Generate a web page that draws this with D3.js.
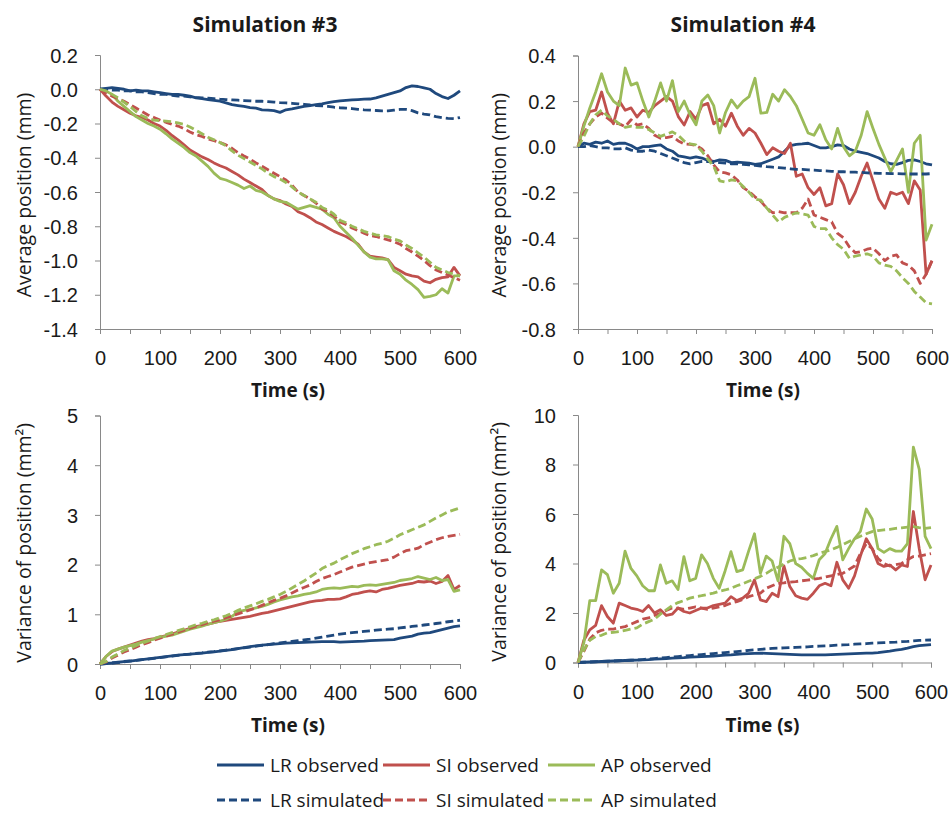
<!DOCTYPE html>
<html>
<head>
<meta charset="utf-8">
<script src="https://cdn.jsdelivr.net/npm/d3@7"></script>
<style>
  body { margin: 0; background: #fff; }
  svg { font-family: "Open Sans", "Segoe UI", sans-serif; }
  .tick text { font-size: 20px; fill: #1a1a1a; }
  .tick line, .domain { stroke: #898989; stroke-width: 1; }
</style>
</head>
<body>
<svg></svg>
<script>
// time axis (s), shared by all series
var time = [0,10,20,30,40,50,60,70,80,90,100,110,120,130,140,150,160,170,180,190,200,
  210,220,230,240,250,260,270,280,290,300,310,320,330,340,350,360,370,380,390,400,
  410,420,430,440,450,460,470,480,490,500,510,520,530,540,550,560,570,580,590,600];

var seriesNames = ['LR observed', 'SI observed', 'AP observed', 'LR simulated', 'SI simulated', 'AP simulated'];
var seriesColors = ['#1F497D', '#C0504D', '#9BBB59', '#1F497D', '#C0504D', '#9BBB59'];

// ---- Simulation #3, average position (mm)
var sim3PosLRobs = [0,0.005,0.01,0.005,0,-0.01,-0.005,-0.01,-0.01,-0.015,-0.02,-0.025,-0.03,-0.03,-0.035,-0.04,-0.05,-0.055,-0.06,-0.065,-0.07,
  -0.08,-0.09,-0.095,-0.1,-0.107,-0.11,-0.12,-0.122,-0.125,-0.135,-0.12,-0.115,-0.107,-0.1,-0.095,-0.09,-0.085,-0.078,-0.072,-0.068,
  -0.065,-0.062,-0.06,-0.058,-0.057,-0.05,-0.04,-0.03,-0.02,-0.01,0.01,0.02,0.016,0.008,0,-0.025,-0.043,-0.054,-0.035,-0.01];
var sim3PosSIobs = [0,-0.04,-0.075,-0.1,-0.12,-0.14,-0.155,-0.165,-0.18,-0.2,-0.215,-0.24,-0.27,-0.295,-0.325,-0.355,-0.375,-0.395,-0.41,-0.43,-0.447,
  -0.46,-0.48,-0.5,-0.525,-0.545,-0.565,-0.585,-0.62,-0.64,-0.65,-0.67,-0.685,-0.715,-0.73,-0.75,-0.775,-0.79,-0.81,-0.83,-0.845,
  -0.86,-0.88,-0.905,-0.95,-0.975,-0.98,-0.985,-0.995,-1.04,-1.06,-1.08,-1.09,-1.095,-1.12,-1.13,-1.11,-1.1,-1.095,-1.04,-1.09];
var sim3PosAPobs = [0,-0.01,-0.03,-0.07,-0.1,-0.13,-0.16,-0.18,-0.2,-0.215,-0.233,-0.26,-0.29,-0.315,-0.34,-0.37,-0.39,-0.42,-0.45,-0.49,-0.52,
  -0.53,-0.545,-0.56,-0.58,-0.565,-0.59,-0.6,-0.62,-0.64,-0.655,-0.66,-0.68,-0.7,-0.69,-0.68,-0.69,-0.7,-0.73,-0.75,-0.8,
  -0.835,-0.87,-0.91,-0.95,-0.98,-0.99,-0.99,-0.995,-1.06,-1.08,-1.115,-1.14,-1.17,-1.215,-1.21,-1.2,-1.165,-1.19,-1.09,-1.09];
var sim3PosLRsim = [0,0,-0.005,-0.005,-0.01,-0.01,-0.015,-0.015,-0.02,-0.025,-0.03,-0.03,-0.035,-0.04,-0.04,-0.045,-0.048,-0.05,-0.052,-0.055,-0.058,
  -0.06,-0.062,-0.064,-0.066,-0.068,-0.07,-0.07,-0.072,-0.075,-0.078,-0.08,-0.082,-0.085,-0.088,-0.092,-0.095,-0.097,-0.1,-0.105,-0.108,
  -0.11,-0.113,-0.117,-0.12,-0.122,-0.124,-0.126,-0.126,-0.122,-0.118,-0.118,-0.125,-0.138,-0.145,-0.15,-0.16,-0.166,-0.17,-0.172,-0.165];
var sim3PosSIsim = [0,-0.02,-0.04,-0.055,-0.07,-0.09,-0.11,-0.13,-0.15,-0.165,-0.18,-0.193,-0.205,-0.215,-0.23,-0.25,-0.265,-0.275,-0.29,-0.3,-0.311,
  -0.325,-0.345,-0.37,-0.39,-0.408,-0.43,-0.45,-0.47,-0.49,-0.51,-0.53,-0.56,-0.6,-0.62,-0.64,-0.665,-0.7,-0.715,-0.74,-0.775,
  -0.79,-0.81,-0.825,-0.84,-0.855,-0.86,-0.87,-0.88,-0.89,-0.905,-0.93,-0.95,-0.975,-1.0,-1.03,-1.055,-1.07,-1.085,-1.1,-1.115];
var sim3PosAPsim = [0,-0.01,-0.03,-0.05,-0.075,-0.1,-0.13,-0.155,-0.17,-0.18,-0.183,-0.186,-0.19,-0.197,-0.205,-0.22,-0.24,-0.26,-0.28,-0.295,-0.311,
  -0.33,-0.36,-0.385,-0.405,-0.425,-0.445,-0.465,-0.49,-0.51,-0.525,-0.545,-0.57,-0.6,-0.62,-0.64,-0.66,-0.69,-0.705,-0.73,-0.765,
  -0.78,-0.8,-0.815,-0.83,-0.84,-0.85,-0.855,-0.86,-0.875,-0.885,-0.91,-0.93,-0.955,-0.98,-1.01,-1.04,-1.055,-1.07,-1.08,-1.09];

// ---- Simulation #4, average position (mm)
var sim4PosLRobs = [0,0.015,0.01,0.02,0.015,0.025,0.01,0.015,0.015,0.005,-0.01,0,0,0.005,0.008,-0.01,-0.02,-0.04,-0.045,-0.05,-0.045,
  -0.05,-0.06,-0.065,-0.058,-0.06,-0.07,-0.068,-0.07,-0.072,-0.078,-0.075,-0.065,-0.055,-0.045,-0.02,0.005,0.01,0.012,0.015,0.005,
  -0.005,-0.005,0,0.008,0.005,-0.01,-0.02,-0.025,-0.03,-0.04,-0.05,-0.065,-0.075,-0.078,-0.07,-0.06,-0.058,-0.065,-0.075,-0.08];
var sim4PosSIobs = [0,0.1,0.154,0.16,0.24,0.147,0.1,0.2,0.16,0.17,0.13,0.16,0.15,0.18,0.2,0.22,0.2,0.132,0.095,0.154,0.12,
  0.18,0.19,0.1,0.12,0.09,0.147,0.09,0.05,0.08,0.06,0.015,-0.035,-0.005,-0.02,-0.03,0.015,-0.13,-0.12,-0.18,-0.21,
  -0.18,-0.26,-0.25,-0.12,-0.167,-0.25,-0.2,-0.13,-0.072,-0.15,-0.23,-0.27,-0.2,-0.21,-0.2,-0.25,-0.15,-0.19,-0.56,-0.5];
var sim4PosAPobs = [0,0.09,0.17,0.24,0.32,0.24,0.2,0.18,0.345,0.27,0.28,0.2,0.13,0.2,0.28,0.2,0.29,0.154,0.2,0.14,0.096,
  0.2,0.227,0.18,0.06,0.15,0.205,0.17,0.2,0.22,0.3,0.147,0.15,0.23,0.2,0.25,0.22,0.18,0.12,0.06,0.05,
  0.096,0.03,-0.01,0.08,0,-0.04,-0.02,0.05,0.154,0.08,0.01,-0.05,-0.11,-0.06,-0.01,-0.2,0.015,0.05,-0.41,-0.34];
var sim4PosLRsim = [0,0,0.005,0,-0.005,-0.005,-0.01,-0.01,-0.005,-0.015,-0.02,-0.02,-0.015,-0.02,-0.03,-0.04,-0.05,-0.06,-0.07,-0.075,-0.07,
  -0.065,-0.065,-0.07,-0.07,-0.072,-0.075,-0.075,-0.078,-0.08,-0.082,-0.085,-0.088,-0.09,-0.092,-0.094,-0.097,-0.1,-0.1,-0.102,-0.103,
  -0.105,-0.106,-0.108,-0.11,-0.11,-0.112,-0.112,-0.113,-0.115,-0.116,-0.117,-0.117,-0.118,-0.118,-0.119,-0.12,-0.12,-0.12,-0.12,-0.118];
var sim4PosSIsim = [0,0.06,0.1,0.13,0.147,0.125,0.105,0.1,0.088,0.118,0.095,0.1,0.08,0.05,0.037,0.04,0.045,0.025,0.012,0.01,0.005,
  -0.01,-0.04,-0.08,-0.11,-0.115,-0.124,-0.146,-0.18,-0.197,-0.22,-0.24,-0.27,-0.29,-0.285,-0.29,-0.29,-0.29,-0.27,-0.23,-0.3,
  -0.31,-0.32,-0.33,-0.38,-0.4,-0.44,-0.465,-0.46,-0.45,-0.445,-0.47,-0.5,-0.48,-0.475,-0.51,-0.52,-0.545,-0.6,-0.56,-0.5];
var sim4PosAPsim = [0,0.045,0.1,0.14,0.16,0.135,0.12,0.1,0.085,0.09,0.085,0.085,0.075,0.06,0.045,0.055,0.065,0.05,0.025,0.012,0.008,
  -0.02,-0.055,-0.085,-0.15,-0.155,-0.146,-0.15,-0.175,-0.2,-0.23,-0.235,-0.27,-0.3,-0.33,-0.31,-0.3,-0.29,-0.295,-0.3,-0.35,
  -0.36,-0.36,-0.4,-0.43,-0.45,-0.49,-0.48,-0.475,-0.47,-0.48,-0.51,-0.52,-0.525,-0.545,-0.575,-0.6,-0.635,-0.66,-0.685,-0.69];

// ---- Simulation #3, variance of position (mm2)
var sim3VarLRobs = [0,0.01,0.02,0.035,0.05,0.06,0.075,0.09,0.105,0.12,0.135,0.15,0.165,0.18,0.19,0.2,0.21,0.22,0.235,0.245,0.26,
  0.275,0.29,0.31,0.33,0.35,0.365,0.38,0.39,0.4,0.41,0.42,0.425,0.43,0.435,0.44,0.445,0.45,0.45,0.45,0.44,
  0.445,0.45,0.455,0.46,0.47,0.475,0.48,0.485,0.49,0.52,0.54,0.56,0.6,0.62,0.63,0.66,0.69,0.72,0.75,0.765];
var sim3VarSIobs = [0,0.15,0.25,0.3,0.34,0.38,0.42,0.46,0.49,0.51,0.54,0.57,0.6,0.64,0.68,0.72,0.75,0.78,0.8,0.83,0.86,
  0.88,0.9,0.92,0.94,0.96,0.99,1.02,1.04,1.07,1.1,1.13,1.16,1.19,1.22,1.25,1.27,1.28,1.3,1.3,1.31,
  1.35,1.4,1.42,1.45,1.47,1.45,1.5,1.52,1.55,1.58,1.6,1.62,1.66,1.65,1.67,1.62,1.66,1.78,1.5,1.58];
var sim3VarAPobs = [0,0.15,0.26,0.3,0.34,0.37,0.4,0.44,0.47,0.5,0.53,0.56,0.58,0.62,0.66,0.7,0.73,0.76,0.8,0.83,0.86,
  0.9,0.96,1.05,1.08,1.1,1.13,1.16,1.2,1.25,1.29,1.32,1.35,1.37,1.4,1.42,1.45,1.5,1.52,1.53,1.52,
  1.54,1.56,1.55,1.58,1.59,1.58,1.6,1.62,1.64,1.68,1.7,1.72,1.76,1.73,1.7,1.74,1.68,1.7,1.46,1.49];
var sim3VarLRsim = [0,0.01,0.02,0.03,0.045,0.06,0.075,0.09,0.1,0.115,0.13,0.145,0.16,0.175,0.19,0.2,0.215,0.225,0.24,0.25,0.265,
  0.28,0.295,0.31,0.325,0.34,0.36,0.375,0.39,0.41,0.425,0.44,0.455,0.47,0.485,0.5,0.52,0.54,0.56,0.58,0.6,
  0.615,0.63,0.64,0.655,0.665,0.68,0.69,0.7,0.71,0.725,0.74,0.755,0.77,0.785,0.8,0.815,0.83,0.85,0.865,0.88];
var sim3VarSIsim = [0,0.04,0.12,0.18,0.24,0.29,0.34,0.39,0.43,0.48,0.52,0.56,0.6,0.64,0.68,0.72,0.76,0.79,0.83,0.86,0.89,
  0.93,0.97,1.01,1.05,1.09,1.13,1.18,1.23,1.28,1.32,1.37,1.43,1.49,1.54,1.59,1.66,1.72,1.76,1.8,1.85,
  1.9,1.95,1.98,2.01,2.04,2.06,2.08,2.1,2.15,2.22,2.28,2.3,2.33,2.4,2.45,2.5,2.54,2.57,2.59,2.61];
var sim3VarAPsim = [0,0.05,0.14,0.2,0.27,0.32,0.37,0.42,0.46,0.51,0.55,0.59,0.63,0.67,0.71,0.75,0.79,0.82,0.86,0.89,0.93,
  0.97,1.02,1.08,1.13,1.17,1.21,1.26,1.3,1.35,1.4,1.46,1.53,1.6,1.67,1.75,1.83,1.92,1.98,2.03,2.1,
  2.16,2.22,2.27,2.32,2.36,2.4,2.43,2.47,2.53,2.6,2.65,2.7,2.75,2.8,2.87,2.94,3.0,3.06,3.1,3.14];

// ---- Simulation #4, variance of position (mm2)
var sim4VarLRobs = [0,0.01,0.02,0.03,0.04,0.05,0.06,0.07,0.08,0.09,0.1,0.11,0.12,0.14,0.15,0.16,0.18,0.19,0.2,0.22,0.23,
  0.24,0.25,0.26,0.28,0.3,0.31,0.33,0.35,0.36,0.37,0.38,0.37,0.36,0.35,0.34,0.33,0.32,0.31,0.31,0.31,
  0.31,0.31,0.32,0.33,0.34,0.35,0.36,0.37,0.38,0.38,0.4,0.43,0.46,0.5,0.53,0.58,0.64,0.68,0.7,0.72];
var sim4VarSIobs = [0,0.9,1.32,1.5,2.3,1.86,1.59,2.4,2.3,2.2,2.15,2.06,2.3,2.0,2.13,1.9,1.95,2.2,2.06,2.0,2.1,
  2.2,2.2,2.3,2.35,2.4,2.66,2.5,2.6,2.8,3.34,2.53,2.46,2.8,2.66,3.9,3.07,2.7,2.6,2.55,2.8,
  3.1,3.2,3.1,4.05,3.34,3.0,3.5,4.3,5.0,4.6,4.0,3.88,3.94,3.74,3.94,3.88,6.1,4.6,3.34,3.94];
var sim4VarAPobs = [0,0.8,2.5,2.5,3.74,3.55,2.8,3.2,4.5,3.8,3.5,3.1,2.9,2.9,3.94,3.2,3.3,2.95,4.28,3.3,3.4,
  4.35,4.0,3.4,3.0,3.7,4.48,3.67,3.74,4.5,5.2,3.6,4.3,4.1,3.3,5.1,4.8,4.0,3.85,3.6,3.4,
  4.15,4.4,5.0,5.5,4.15,4.6,5.0,5.3,6.2,5.8,4.6,4.45,4.6,4.5,4.5,4.8,8.7,7.8,5.1,4.6];
var sim4VarLRsim = [0,0.01,0.02,0.03,0.04,0.05,0.06,0.07,0.08,0.09,0.1,0.12,0.14,0.16,0.18,0.2,0.22,0.24,0.26,0.28,0.3,
  0.32,0.34,0.36,0.38,0.4,0.42,0.44,0.46,0.49,0.51,0.53,0.55,0.57,0.58,0.59,0.6,0.61,0.62,0.63,0.65,
  0.66,0.67,0.68,0.7,0.71,0.72,0.74,0.75,0.76,0.78,0.79,0.8,0.81,0.82,0.84,0.85,0.87,0.89,0.9,0.91];
var sim4VarSIsim = [0,0.45,0.95,1.2,1.3,1.35,1.35,1.4,1.45,1.55,1.65,1.75,1.8,1.9,1.99,2.1,2.2,2.2,2.15,2.2,2.25,
  2.2,2.15,2.2,2.25,2.3,2.4,2.46,2.55,2.66,2.73,2.8,3.0,3.1,3.2,3.22,3.25,3.27,3.3,3.33,3.36,
  3.4,3.45,3.5,3.55,3.6,3.75,3.9,4.4,4.8,4.6,4.2,4.0,3.9,3.95,4.0,4.15,4.28,4.3,4.35,4.4];
var sim4VarAPsim = [0,0.5,0.9,1.05,1.1,1.2,1.22,1.25,1.3,1.35,1.4,1.55,1.65,1.75,1.95,2.13,2.3,2.42,2.5,2.6,2.66,
  2.7,2.75,2.8,2.88,2.93,3.0,3.1,3.18,3.28,3.38,3.48,3.6,3.75,3.85,3.98,4.1,4.17,4.2,4.25,4.32,
  4.41,4.48,4.55,4.65,4.76,4.88,5.0,5.1,5.2,5.29,5.33,5.36,5.38,5.42,5.44,5.47,5.49,5.45,5.42,5.45];

// tick values
var xTicks = [0,50,100,150,200,250,300,350,400,450,500,550,600];
var yTicksPos3 = [-1.4,-1.2,-1.0,-0.8,-0.6,-0.4,-0.2,0.0,0.2];
var yTicksPos4 = [-0.8,-0.6,-0.4,-0.2,0.0,0.2,0.4];
var yTicksVar3 = [0,1,2,3,4,5];
var yTicksVar4 = [0,2,4,6,8,10];

var width = 949, height = 813;
var svg = d3.select('svg').attr('width', width).attr('height', height);

var panels = [
  { left: 100, right: 460, top: 55, bottom: 329, yTicks: yTicksPos3, fmt: d => d.toFixed(1),
    title: 'Simulation #3', titleX: 265, yLabel: 'Average position (mm)', yLabelX: 24, xLabelY: 390,
    series: [sim3PosLRobs, sim3PosSIobs, sim3PosAPobs, sim3PosLRsim, sim3PosSIsim, sim3PosAPsim] },
  { left: 578, right: 932, top: 55.5, bottom: 329, yTicks: yTicksPos4, fmt: d => d.toFixed(1),
    title: 'Simulation #4', titleX: 743, yLabel: 'Average position (mm)', yLabelX: 499, xLabelY: 390,
    series: [sim4PosLRobs, sim4PosSIobs, sim4PosAPobs, sim4PosLRsim, sim4PosSIsim, sim4PosAPsim] },
  { left: 100, right: 460, top: 415.5, bottom: 664, yTicks: yTicksVar3, fmt: d => String(d),
    yLabel: 'Variance of position (mm²)', yLabelX: 24, xLabelY: 725,
    series: [sim3VarLRobs, sim3VarSIobs, sim3VarAPobs, sim3VarLRsim, sim3VarSIsim, sim3VarAPsim] },
  { left: 578, right: 931, top: 415, bottom: 662.5, yTicks: yTicksVar4, fmt: d => String(d),
    yLabel: 'Variance of position (mm²)', yLabelX: 499, xLabelY: 725,
    series: [sim4VarLRobs, sim4VarSIobs, sim4VarAPobs, sim4VarLRsim, sim4VarSIsim, sim4VarAPsim] }
];

panels.forEach(function(p) {
  var x = d3.scaleLinear().domain([0, 600]).range([p.left, p.right]);
  var y = d3.scaleLinear().domain(d3.extent(p.yTicks)).range([p.bottom, p.top]);
  var g = svg.append('g');

  g.append('g')
    .attr('transform', 'translate(0,' + p.bottom + ')')
    .call(d3.axisBottom(x).tickValues(xTicks).tickSize(5).tickPadding(17)
      .tickFormat(d => d % 100 === 0 ? d : ''));

  g.append('g')
    .attr('transform', 'translate(' + p.left + ',0)')
    .call(d3.axisLeft(y).tickValues(p.yTicks).tickSize(5).tickPadding(17).tickFormat(p.fmt))
    .selectAll('.tick text').attr('dy', '0.36em');

  var line = d3.line()
    .defined(d => d[1] != null)
    .x(d => x(d[0]))
    .y(d => y(d[1]));

  p.series.forEach(function(vals, i) {
    g.append('path')
      .datum(time.map((t, k) => [t, vals[k]]))
      .attr('d', line)
      .attr('fill', 'none')
      .attr('stroke', seriesColors[i])
      .attr('stroke-width', 2.8)
      .attr('stroke-linejoin', 'round')
      .attr('stroke-dasharray', i >= 3 ? '8,4' : null);
  });

  if (p.title) {
    g.append('text').attr('x', p.titleX).attr('y', 32)
      .attr('text-anchor', 'middle').attr('font-size', 21).attr('font-weight', 'bold')
      .attr('fill', '#1a1a1a').text(p.title);
  }
  g.append('text').attr('x', (p.left + p.right) / 2 + 8).attr('y', p.xLabelY + 7)
    .attr('text-anchor', 'middle').attr('font-size', 19).attr('font-weight', 'bold')
    .attr('fill', '#1a1a1a').text('Time (s)');

  var cy = (p.top + p.bottom) / 2 + 3;
  g.append('text')
    .attr('transform', 'translate(' + p.yLabelX + ',' + cy + ') rotate(-90)')
    .attr('text-anchor', 'middle').attr('dy', '0.35em').attr('font-size', 19.5)
    .attr('fill', '#1a1a1a').text(p.yLabel);
});

// legend
var legendCols = [217, 383, 548];
var legendRows = [765, 800];
seriesNames.forEach(function(name, i) {
  var lx = legendCols[i % 3], ly = legendRows[Math.floor(i / 3)];
  svg.append('line')
    .attr('x1', lx).attr('x2', lx + 47).attr('y1', ly).attr('y2', ly)
    .attr('stroke', seriesColors[i]).attr('stroke-width', 2.8)
    .attr('stroke-dasharray', i >= 3 ? '8,4' : null);
  svg.append('text').attr('x', lx + 53).attr('y', ly).attr('dy', '0.35em')
    .attr('font-size', 19).attr('fill', '#1a1a1a').text(name);
});
</script>
</body>
</html>
